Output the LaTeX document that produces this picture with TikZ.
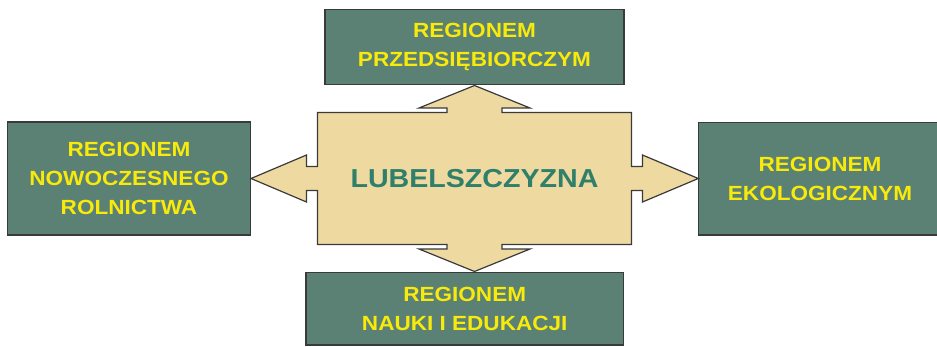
\documentclass[tikz,border=0pt]{standalone}
\usepackage{fontspec}
\setmainfont{Liberation Sans}
\newfontfamily\regfont[FakeStretch=1.1]{Liberation Sans}
\usetikzlibrary{calc}
\definecolor{boxgreen}{HTML}{5B8175}
\definecolor{tan}{HTML}{EED9A0}
\definecolor{edge}{HTML}{3A3A3A}
\definecolor{ytext}{HTML}{F8EA0A}
\definecolor{tealtext}{HTML}{2F7F6A}
\tikzset{
  regbox/.style={draw=edge, line width=1.2pt, fill=boxgreen, text=ytext,
    align=center, inner sep=0pt, font=\regfont\bfseries\fontsize{20.5}{29}\selectfont},
  crossshape/.style={draw=edge, line width=1.2pt, fill=tan, line join=miter},
}
\begin{document}
\begin{tikzpicture}[x=1pt,y=-1pt]
\useasboundingbox (0,0) rectangle (937,347);
% boxes
\node[regbox, minimum width=299pt, minimum height=75pt] (top) at (474.5,47) {REGIONEM\\PRZEDSIĘBIORCZYM};
\node[regbox, minimum width=243.4pt, minimum height=113pt] (left) at (129,178.5) {REGIONEM\\NOWOCZESNEGO\\ROLNICTWA};
\node[regbox, minimum width=243.4pt, minimum height=112.7pt] (right) at (820,178.7) {REGIONEM\\EKOLOGICZNYM};
\node[regbox, minimum width=317.3pt, minimum height=72.3pt] (bottom) at (464.7,308.9) {REGIONEM\\NAUKI I EDUKACJI};
% central cross of arrows
\coordinate (c) at (474.5,178.5);
\draw[crossshape]
  ($(c)+(0,-93)$) -- ($(c)+(55.5,-70.5)$) -- ($(c)+(27.5,-70.5)$) -- ($(c)+(27.5,-66)$)
  -- ($(c)+(157,-66)$) -- ($(c)+(157,-12)$) -- ($(c)+(168,-12)$) -- ($(c)+(168,-23.5)$)
  -- ($(c)+(223.8,0)$)
  -- ($(c)+(168,23.5)$) -- ($(c)+(168,12)$) -- ($(c)+(157,12)$) -- ($(c)+(157,66)$)
  -- ($(c)+(27.5,66)$) -- ($(c)+(27.5,70.5)$) -- ($(c)+(55.5,70.5)$)
  -- ($(c)+(0,93)$)
  -- ($(c)+(-55.5,70.5)$) -- ($(c)+(-27.5,70.5)$) -- ($(c)+(-27.5,66)$)
  -- ($(c)+(-157,66)$) -- ($(c)+(-157,12)$) -- ($(c)+(-168,12)$) -- ($(c)+(-168,23.5)$)
  -- ($(c)+(-223.5,0)$)
  -- ($(c)+(-168,-23.5)$) -- ($(c)+(-168,-12)$) -- ($(c)+(-157,-12)$) -- ($(c)+(-157,-66)$)
  -- ($(c)+(-27.5,-66)$) -- ($(c)+(-27.5,-70.5)$) -- ($(c)+(-55.5,-70.5)$) -- cycle;
\node[text=tealtext, font=\regfont\bfseries\fontsize{26}{30}\selectfont, inner sep=0pt] (lub) at (c) {LUBELSZCZYZNA};
\end{tikzpicture}
\end{document}
